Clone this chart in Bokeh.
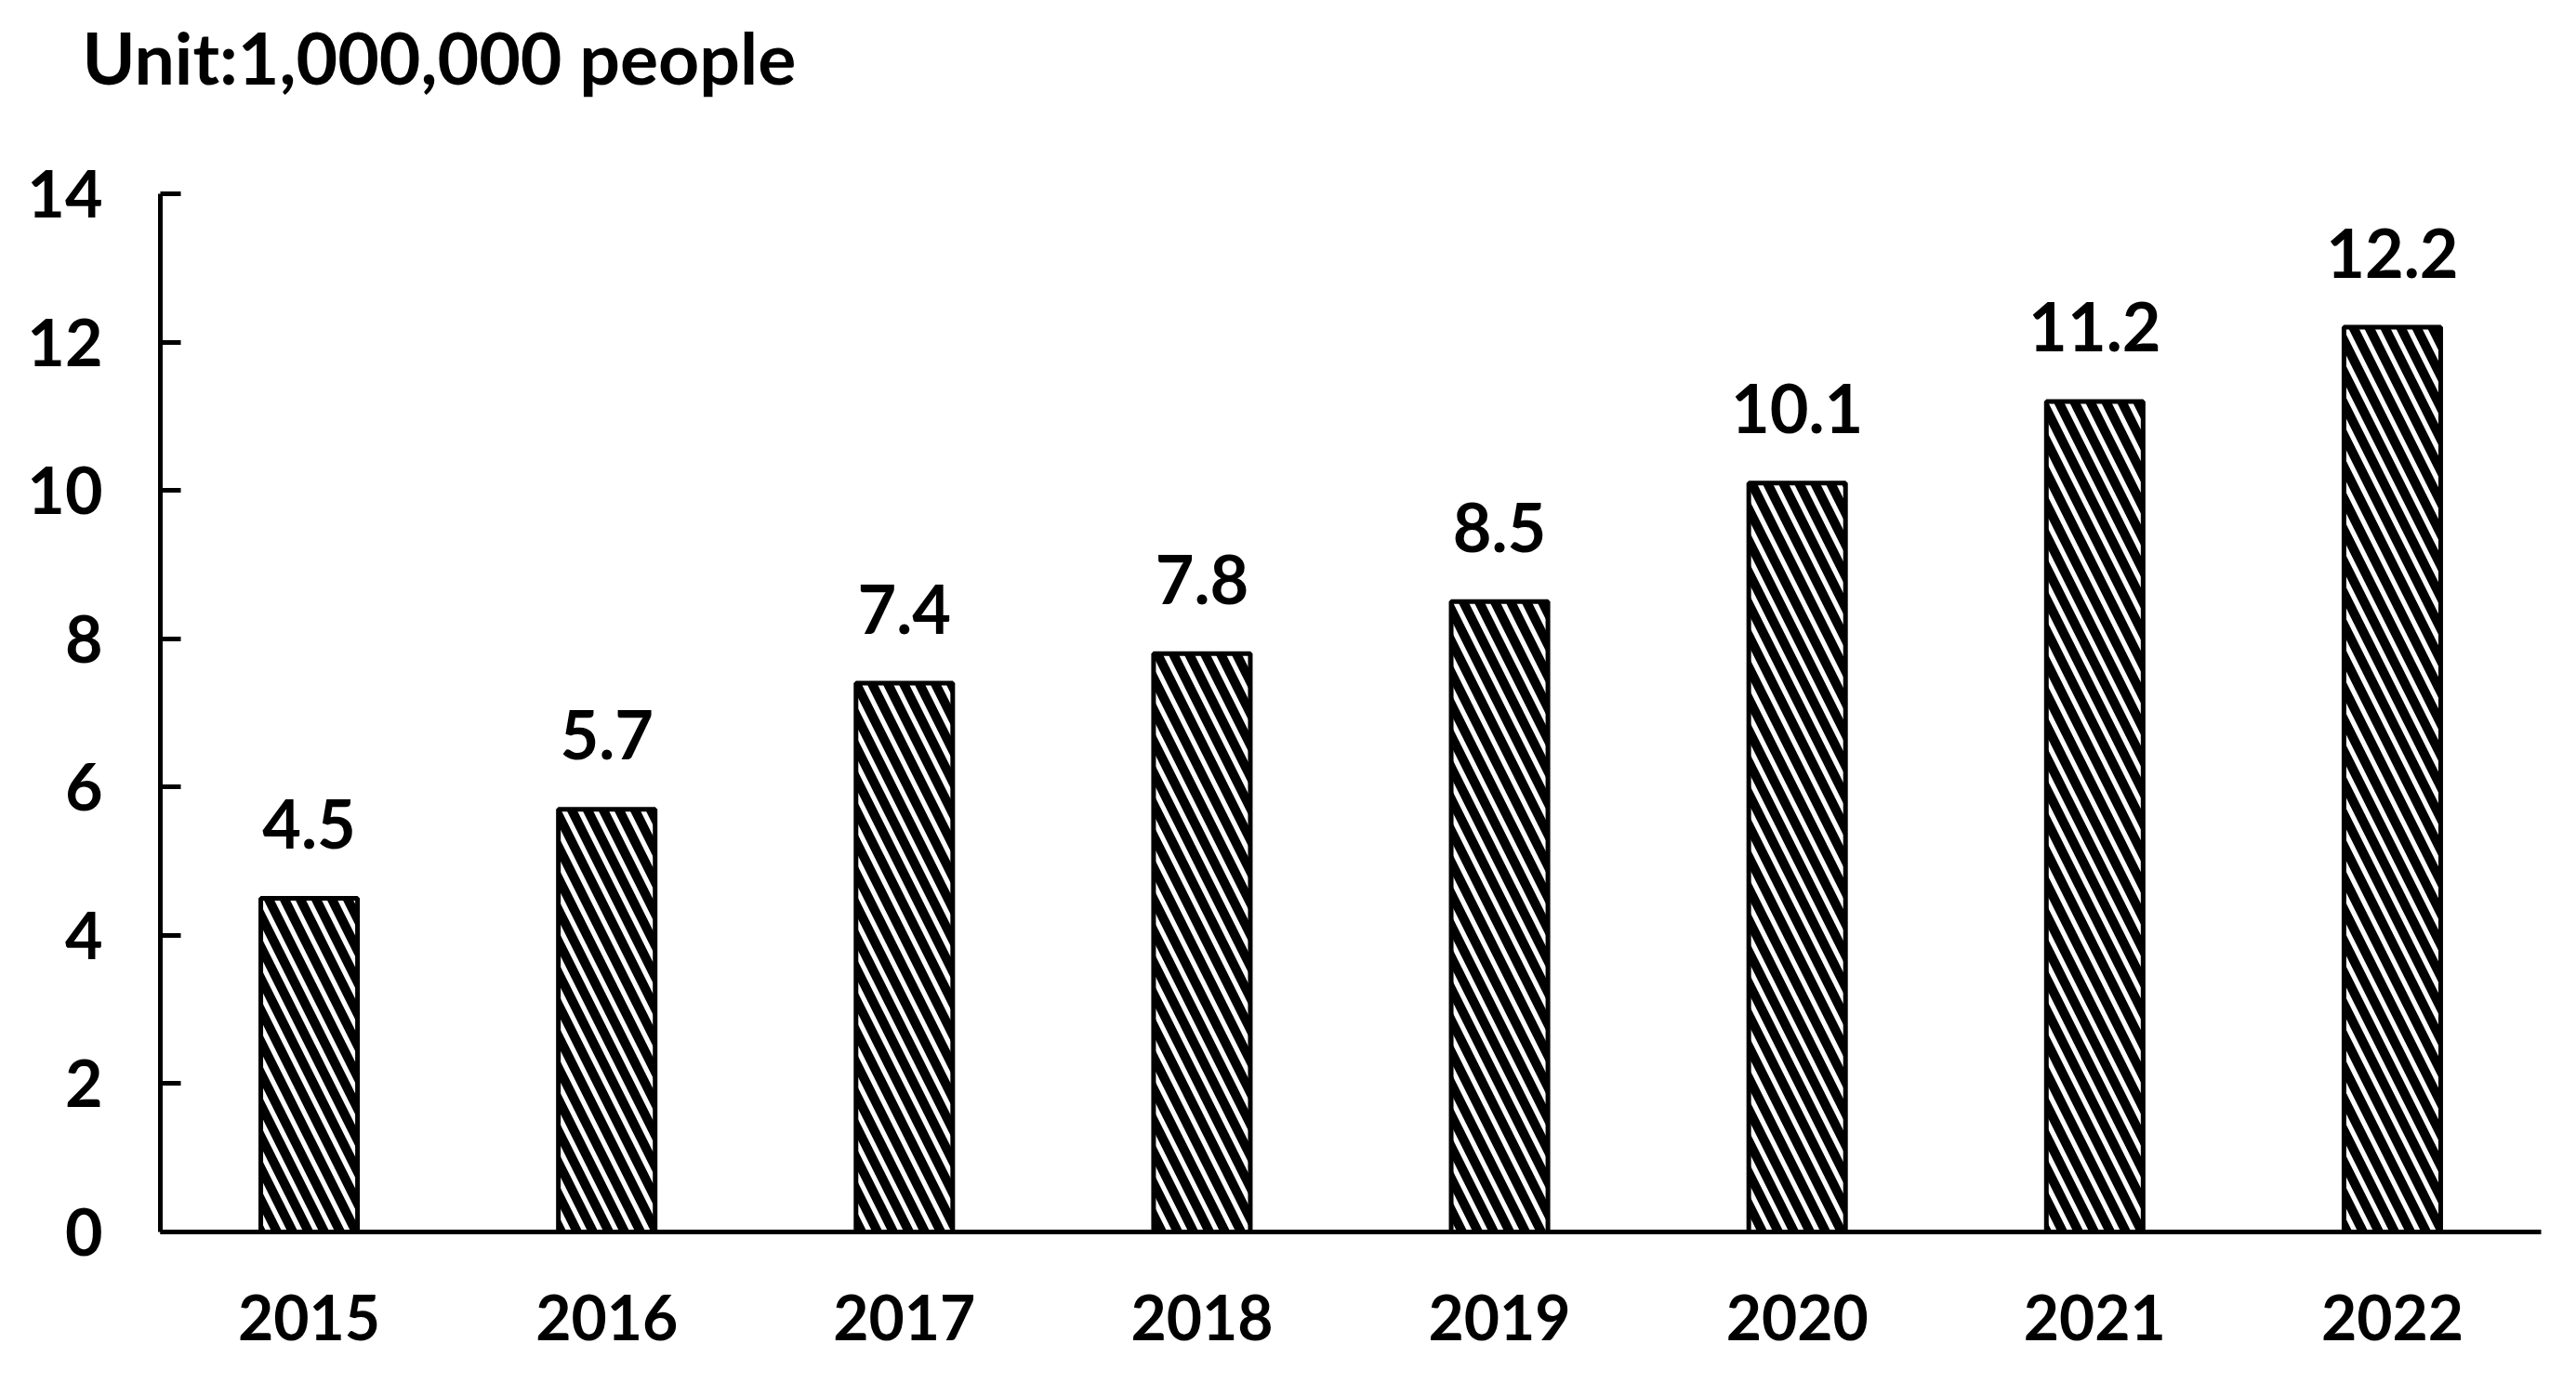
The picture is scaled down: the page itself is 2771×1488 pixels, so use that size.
from bokeh.plotting import figure
from bokeh.models import ColumnDataSource, FixedTicker, Range1d, FactorRange, Title
from bokeh.core.properties import value
from bokeh.embed import file_html
from bokeh.resources import INLINE

years = ["2015", "2016", "2017", "2018", "2019", "2020", "2021", "2022"]
people_millions = [4.5, 5.7, 7.4, 7.8, 8.5, 10.1, 11.2, 12.2]
y_ticks = [0, 2, 4, 6, 8, 10, 12, 14]
title_text = "Unit:1,000,000 people"

FONT = "Lato"

src = ColumnDataSource(dict(
    year=years,
    val=people_millions,
    lbl=[f"{v:.1f}" for v in people_millions],
))

p = figure(
    x_range=FactorRange(*years, range_padding=0),
    y_range=Range1d(0, 14),
    width=2755, height=1472,
    output_backend="svg", toolbar_location=None,
    min_border_left=172, min_border_right=22, min_border_top=208, min_border_bottom=147,
    title=title_text,
)
p.outline_line_color = None
p.grid.grid_line_color = None

p.title.align = "left"
p.title.vertical_align = "top"
p.title.text_font = FONT
p.title.text_font_style = "bold"
p.title.text_font_size = "77px"
p.title.text_color = "black"
p.title.offset = -84

# empty spacer between the unit title and the plot area
p.add_layout(Title(text=" ", text_font_size="1px", standoff=92), "above")

p.vbar(x="year", top="val", width=0.325, source=src,
       fill_color="white", line_color="black", line_width=5,
       hatch_pattern="\\", hatch_color="black", hatch_scale=34, hatch_weight=10)

p.text(x="year", y="val", text="lbl", source=src,
       text_font=value(FONT), text_font_style="bold", text_font_size="72px",
       text_color="black", text_align="center", text_baseline="alphabetic",
       y_offset=-80)

ya = p.yaxis[0]
ya.ticker = FixedTicker(ticks=y_ticks)
ya.axis_line_width = 5
ya.axis_line_color = "black"
ya.major_tick_in = 22
ya.major_tick_out = 0
ya.major_tick_line_width = 5
ya.minor_tick_line_color = None
ya.major_label_standoff = 62
ya.major_label_text_font = FONT
ya.major_label_text_font_style = "bold"
ya.major_label_text_font_size = "70px"
ya.major_label_text_color = "black"

xa = p.xaxis[0]
xa.axis_line_width = 5
xa.axis_line_color = "black"
xa.major_tick_line_color = None
xa.minor_tick_line_color = None
xa.major_tick_in = 0
xa.major_tick_out = 0
xa.major_label_standoff = 67
xa.major_label_text_font = FONT
xa.major_label_text_font_style = "bold"
xa.major_label_text_font_size = "66px"
xa.major_label_text_color = "black"

open("out.html", "w").write(file_html(p, INLINE))
